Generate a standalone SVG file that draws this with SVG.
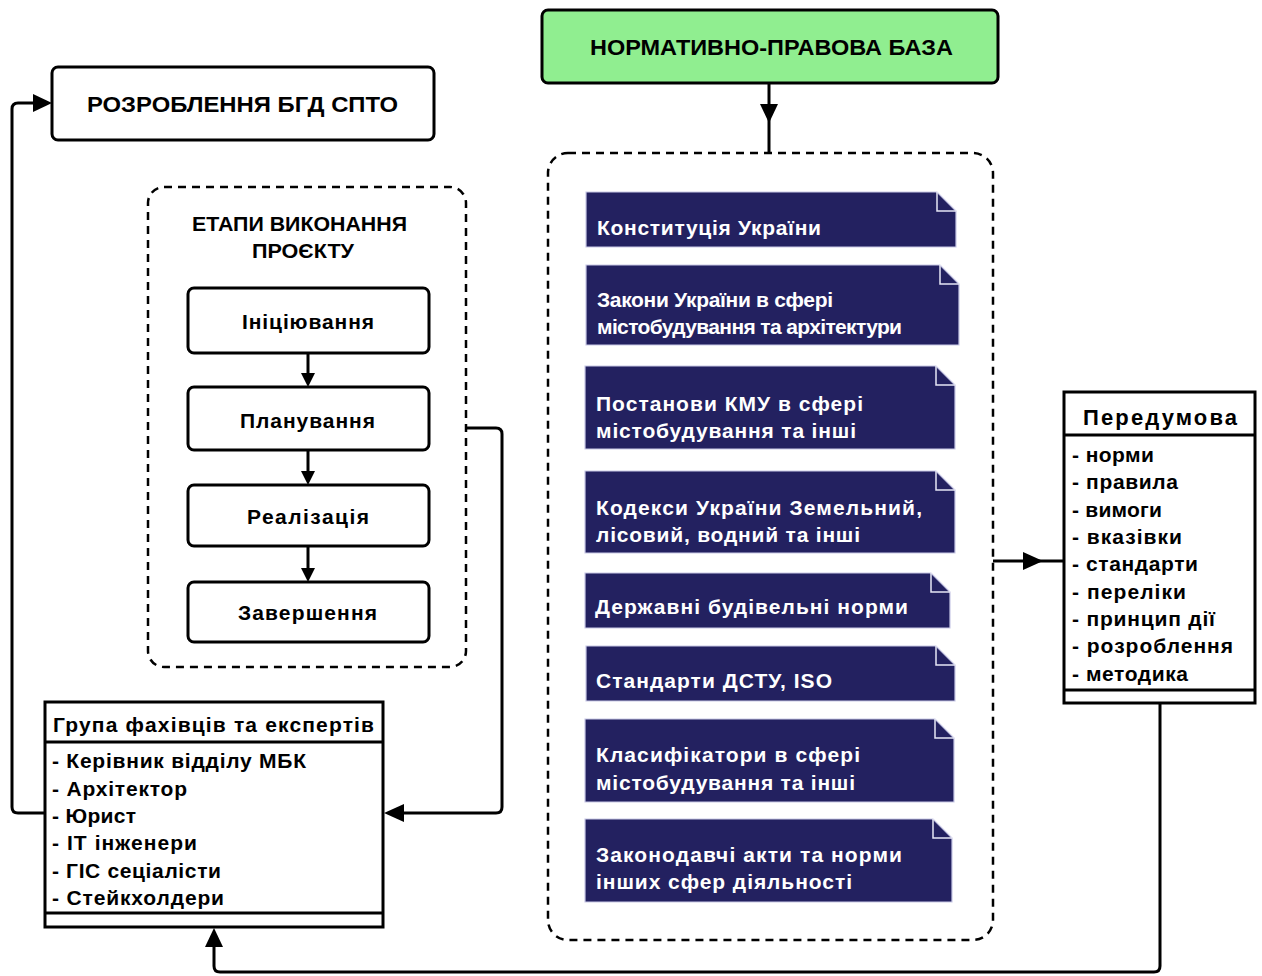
<svg xmlns="http://www.w3.org/2000/svg" width="1262" height="976" viewBox="0 0 1262 976">
<style>
text{font-family:"Liberation Sans",Arial,sans-serif;font-weight:bold;fill:#000}
.h{font-size:23px}
.t{font-size:22px}
.s{font-size:21px}
.d{font-size:21px;fill:#fff}
.box{fill:#fff;stroke:#000;stroke-width:3}
.dash{fill:none;stroke:#000;stroke-width:2.5;stroke-dasharray:8 6}
.doc{fill:#232160;stroke:#c9c9e6;stroke-width:1.2}
.fold{fill:none;stroke:#e6e6f5;stroke-width:1.5}
.ln{fill:none;stroke:#000;stroke-width:3}
.ah{fill:#000}
</style>
<rect width="1262" height="976" fill="#fff"/>

<g id="connectors">
  <line class="ln" x1="769" y1="83" x2="769" y2="153"/>
  <polygon class="ah" points="760,104 778,104 769,123"/>
  <line class="ln" x1="993" y1="561" x2="1063" y2="561"/>
  <polygon class="ah" points="1023,552 1023,570 1043,561"/>
  <path class="ln" d="M1160,704 V966 Q1160,972 1154,972 H220 Q214,972 214,966 V945"/>
  <polygon class="ah" points="205,947 223,947 214,928"/>
  <path class="ln" d="M466,428 H496 Q502,428 502,434 V807 Q502,813 496,813 H402"/>
  <polygon class="ah" points="404,804 404,822 384,813"/>
  <path class="ln" d="M45,813 H18 Q12,813 12,807 V109 Q12,103 18,103 H35"/>
  <polygon class="ah" points="33,94 33,112 52,103"/>
  <line class="ln" x1="308" y1="353" x2="308" y2="376"/>
  <polygon class="ah" points="301,373 315,373 308,387"/>
  <line class="ln" x1="308" y1="450" x2="308" y2="474"/>
  <polygon class="ah" points="301,471 315,471 308,485"/>
  <line class="ln" x1="308" y1="546" x2="308" y2="571"/>
  <polygon class="ah" points="301,568 315,568 308,582"/>
</g>

<g id="norm-base">
  <rect x="542" y="10" width="456" height="73" rx="6" fill="#90ee90" stroke="#000" stroke-width="3"/>
  <text class="t" x="590" y="55" textLength="363" lengthAdjust="spacingAndGlyphs">НОРМАТИВНО-ПРАВОВА БАЗА</text>
</g>

<g id="rozroblennia">
  <rect class="box" x="52" y="67" width="382" height="73" rx="6"/>
  <text class="t" x="87" y="112" textLength="311" lengthAdjust="spacingAndGlyphs">РОЗРОБЛЕННЯ БГД СПТО</text>
</g>

<g id="etapy">
  <rect class="dash" x="148" y="187" width="318" height="480" rx="16"/>
  <text class="s" x="192" y="231" textLength="215" lengthAdjust="spacingAndGlyphs">ЕТАПИ ВИКОНАННЯ</text>
  <text class="s" x="252" y="258" textLength="102" lengthAdjust="spacingAndGlyphs">ПРОЄКТУ</text>
</g>

<g id="initiation">
  <rect class="box" x="188" y="288" width="241" height="65" rx="6"/>
  <text class="s" x="242" y="329" textLength="132">Ініціювання</text>
</g>
<g id="planning">
  <rect class="box" x="188" y="387" width="241" height="63" rx="6"/>
  <text class="s" x="240" y="428" textLength="135">Планування</text>
</g>
<g id="realization">
  <rect class="box" x="188" y="485" width="241" height="61" rx="6"/>
  <text class="s" x="247" y="524" textLength="122">Реалізація</text>
</g>
<g id="completion">
  <rect class="box" x="188" y="582" width="241" height="60" rx="6"/>
  <text class="s" x="238" y="620" textLength="139">Завершення</text>
</g>

<g id="group">
  <rect class="box" x="45" y="702" width="338" height="225"/>
  <line class="ln" x1="45" y1="742" x2="383" y2="742"/>
  <line class="ln" x1="45" y1="913" x2="383" y2="913"/>
  <text class="s" x="53" y="732" textLength="321">Група фахівців та експертів</text>
  <text class="s" x="52" y="768" textLength="254">- Керівник відділу МБК</text>
  <text class="s" x="52" y="796" textLength="135">- Архітектор</text>
  <text class="s" x="52" y="823" textLength="84">- Юрист</text>
  <text class="s" x="52" y="850" textLength="145">- ІТ інженери</text>
  <text class="s" x="52" y="878" textLength="169">- ГІС сеціалісти</text>
  <text class="s" x="52" y="905" textLength="172">- Стейкхолдери</text>
</g>

<g id="normatyvna-container">
  <rect class="dash" x="548" y="153" width="445" height="787" rx="20"/>
</g>

<g id="doc1">
  <path class="doc" d="M586,192 H937 L956,211 V247 H586 Z"/>
  <path class="fold" d="M937,192 V211 H956"/>
  <text class="d" x="597" y="235" textLength="224">Конституція України</text>
</g>
<g id="doc2">
  <path class="doc" d="M586,265 H940 L959,284 V345 H586 Z"/>
  <path class="fold" d="M940,265 V284 H959"/>
  <text class="d" x="597" y="307" textLength="236">Закони України в сфері</text>
  <text class="d" x="597" y="334" textLength="305">містобудування та архітектури</text>
</g>
<g id="doc3">
  <path class="doc" d="M585,366 H936 L955,385 V449 H585 Z"/>
  <path class="fold" d="M936,366 V385 H955"/>
  <text class="d" x="596" y="411" textLength="267">Постанови КМУ в сфері</text>
  <text class="d" x="596" y="438" textLength="260">містобудування та інші</text>
</g>
<g id="doc4">
  <path class="doc" d="M585,471 H936 L955,490 V553 H585 Z"/>
  <path class="fold" d="M936,471 V490 H955"/>
  <text class="d" x="596" y="515" textLength="326">Кодекси України Земельний,</text>
  <text class="d" x="596" y="542" textLength="264">лісовий, водний та інші</text>
</g>
<g id="doc5">
  <path class="doc" d="M585,573 H931 L950,592 V628 H585 Z"/>
  <path class="fold" d="M931,573 V592 H950"/>
  <text class="d" x="595" y="614" textLength="313">Державні будівельні норми</text>
</g>
<g id="doc6">
  <path class="doc" d="M586,646 H936 L955,665 V701 H586 Z"/>
  <path class="fold" d="M936,646 V665 H955"/>
  <text class="d" x="596" y="688" textLength="236">Стандарти ДСТУ, ISO</text>
</g>
<g id="doc7">
  <path class="doc" d="M585,719 H935 L954,738 V802 H585 Z"/>
  <path class="fold" d="M935,719 V738 H954"/>
  <text class="d" x="596" y="762" textLength="264">Класифікатори в сфері</text>
  <text class="d" x="596" y="790" textLength="259">містобудування та інші</text>
</g>
<g id="doc8">
  <path class="doc" d="M585,819 H933 L952,838 V902 H585 Z"/>
  <path class="fold" d="M933,819 V838 H952"/>
  <text class="d" x="596" y="862" textLength="306">Законодавчі акти та норми</text>
  <text class="d" x="596" y="889" textLength="256">інших сфер діяльності</text>
</g>

<g id="peredumova">
  <rect class="box" x="1064" y="392" width="191" height="311"/>
  <line class="ln" x1="1064" y1="435" x2="1255" y2="435"/>
  <line class="ln" x1="1064" y1="690" x2="1255" y2="690"/>
  <text class="t" x="1083" y="425" textLength="154">Передумова</text>
  <text class="s" x="1072" y="462" textLength="82">- норми</text>
  <text class="s" x="1072" y="489" textLength="106">- правила</text>
  <text class="s" x="1072" y="517" textLength="90">- вимоги</text>
  <text class="s" x="1072" y="544" textLength="110">- вказівки</text>
  <text class="s" x="1072" y="571" textLength="126">- стандарти</text>
  <text class="s" x="1072" y="599" textLength="114">- переліки</text>
  <text class="s" x="1072" y="626" textLength="143">- принцип дії</text>
  <text class="s" x="1072" y="653" textLength="161">- розроблення</text>
  <text class="s" x="1072" y="681" textLength="116">- методика</text>
</g>
</svg>
